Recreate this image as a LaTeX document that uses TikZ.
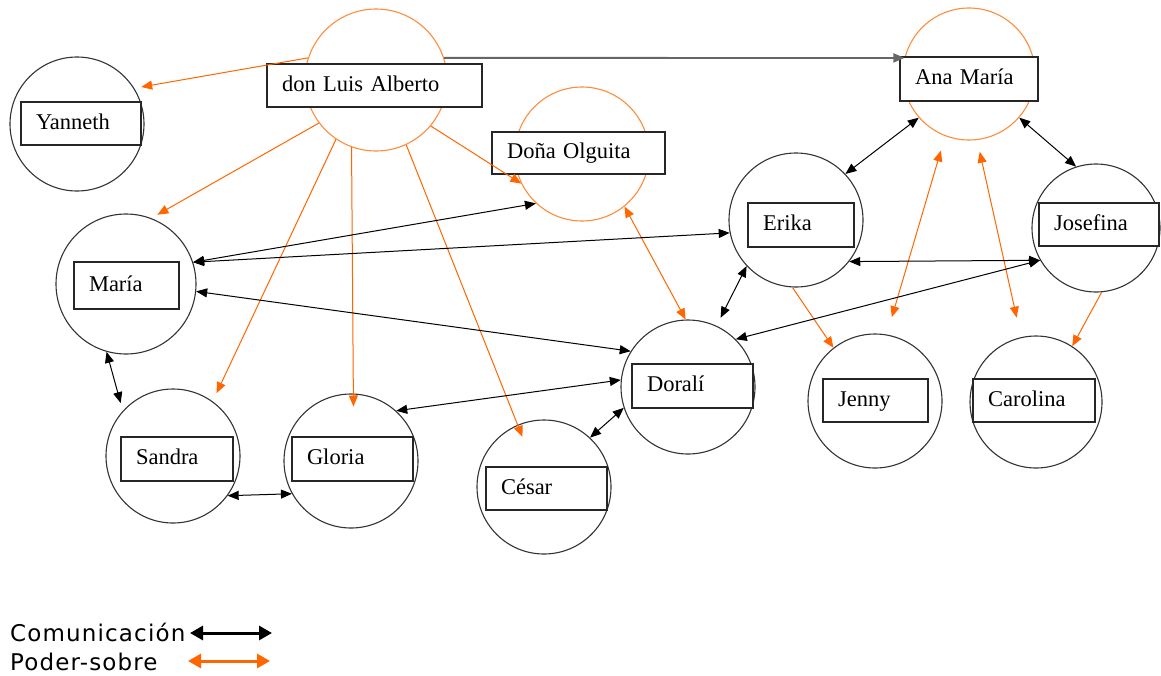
\documentclass[tikz,border=0pt]{standalone}
\usepackage{fontspec}
\setmainfont{Liberation Serif}
\newfontfamily\legfont[LetterSpace=5]{DejaVu Sans}
\usetikzlibrary{arrows.meta}
\definecolor{orng}{RGB}{255,102,0}
\definecolor{orngc}{RGB}{255,140,60}
\definecolor{cgr}{RGB}{51,51,51}
\begin{document}
\begin{tikzpicture}[x=1pt,y=-1pt,
  pc/.style={circle, draw=cgr, line width=1.1pt, inner sep=0pt},
  oc/.style={circle, draw=orngc, line width=1.1pt, inner sep=0pt},
  lab/.style={draw=black!85, line width=1.3pt, fill=white, inner xsep=15pt, inner ysep=0pt,
    align=left, text height=15pt, text depth=4pt, font=\fontsize{22.5}{26}\selectfont},
  tip/.tip={Triangle[length=11pt,width=9pt]},
  com/.style={draw=black, line width=1pt, tip-tip},
  comone/.style={draw=black!60, line width=1.8pt, -tip},
  pow/.style={draw=orng, line width=1pt, -tip},
  powb/.style={draw=orng, line width=1pt, tip-tip},
  legc/.style={line width=3pt, {Triangle[length=13pt,width=14pt]}-{Triangle[length=13pt,width=14pt]}},
  legt/.style={anchor=base west, inner sep=0pt, font=\legfont\fontsize{23}{26}\selectfont}
]
\useasboundingbox (0,0) rectangle (1161,675);

% circles
\node[pc, minimum size=134pt] (yan) at (77,124) {};
\node[oc, minimum size=142pt] (dla) at (376,80) {};
\node[oc, minimum size=132pt] (ana) at (969,74) {};
\node[oc, minimum size=134pt] (olg) at (582,154) {};
\node[pc, minimum size=134pt] (eri) at (796,220) {};
\node[pc, minimum size=128pt] (jos) at (1096,228) {};
\node[pc, minimum size=140pt] (mar) at (126,284) {};
\node[pc, minimum size=134pt] (san) at (173,456) {};
\node[pc, minimum size=134pt] (glo) at (351,461) {};
\node[pc, minimum size=134pt] (ces) at (544,487) {};
\node[pc, minimum size=134pt] (dor) at (688,387) {};
\node[pc, minimum size=134pt] (jen) at (875,401) {};
\node[pc, minimum size=132pt] (car) at (1036,402) {};

% labels
\node[lab, text width=90pt, minimum height=43pt] (yanL) at (81,123.5) {Yanneth};
\node[lab, text width=185pt, minimum height=43pt] (dlaL) at (374.5,85.5) {don Luis Alberto};
\node[lab, text width=108pt, minimum height=44pt] (anaL) at (969,79) {Ana María};
\node[lab, text width=143pt, minimum height=42pt] (olgL) at (578.5,153) {Doña Olguita};
\node[lab, text width=76pt, minimum height=44pt] (eriL) at (801,225) {Erika};
\node[lab, text width=90pt, minimum height=43pt] (josL) at (1099,224.5) {Josefina};
\node[lab, text width=75pt, minimum height=47pt] (marL) at (126.5,285.5) {María};
\node[lab, text width=82pt, minimum height=44pt] (sanL) at (177,459) {Sandra};
\node[lab, text width=91pt, minimum height=44pt] (gloL) at (352.5,459) {Gloria};
\node[lab, text width=91pt, minimum height=43pt] (cesL) at (546.5,488.5) {César};
\node[lab, text width=91pt, minimum height=44pt] (dorL) at (692.5,386) {Doralí};
\node[lab, text width=75pt, minimum height=43pt] (jenL) at (875.5,400.5) {Jenny};
\node[lab, text width=92pt, minimum height=43pt] (carL) at (1034,400.5) {Carolina};

% power (orange)
\draw[pow, shorten >=7pt] (dla.162) -- (yan.32);
\draw[pow, shorten >=7pt] (dla.217) -- (mar.69);
\draw[pow, shorten >=9pt] (dla.236) -- (san.54);
\draw[pow, shorten >=-13pt] (dla.250) -- (glo.88);
\draw[pow, shorten >=-13pt] (dla.295) -- (ces.113);
\draw[pow] (dla.320) -- (olg.206);
\draw[powb] (olg.309) -- (dor.92);
\draw[pow] (eri.267) -- (jen.128);
\draw[powb, shorten <=15pt, shorten >=18pt] (ana.249) -- (jen.80);
\draw[powb, shorten <=12pt, shorten >=20pt] (ana.277) -- (car.103);
\draw[pow] (jos.275) -- (car.57);

% communication (black)
\draw[comone] (dla.18) -- (ana.166);
\draw[com] (ana.221) -- (eri.43);
\draw[com] (ana.319) -- (jos.108);
\draw[com] (eri.322) -- (jos.210);
\draw[com] (mar.18) -- (olg.227);
\draw[com] (mar.18) -- (eri.191);
\draw[com] (mar.354) -- (dor.148);
\draw[com, shorten >=9pt] (eri.223) -- (dor.65);
\draw[com] (jos.210) -- (dor.45);
\draw[com] (glo.48) -- (dor.174);
\draw[com] (dor.198) -- (ces.47);
\draw[com, shorten >=8pt] (mar.254) -- (san.138);
\draw[com] (san.324) -- (glo.209);

% legend
\node[legt] (lcom) at (10,641) {Comunicación};
\node[legt] (lpod) at (10,670) {Poder-sobre};
\coordinate (lc1) at (190,633);
\coordinate (lc2) at (272,633);
\coordinate (lp1) at (188,661);
\coordinate (lp2) at (270,661);
\draw[legc, draw=black] (lc1) -- (lc2);
\draw[legc, draw=orng] (lp1) -- (lp2);
\end{tikzpicture}
\end{document}
